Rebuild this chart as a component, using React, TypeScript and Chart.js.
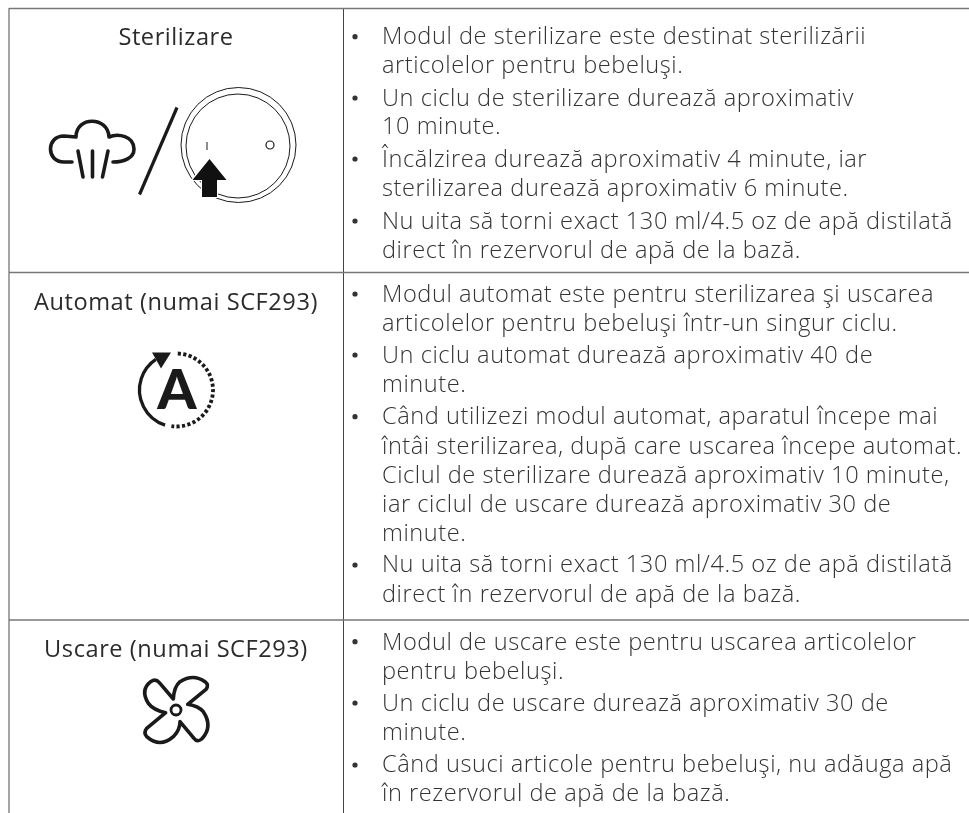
import React, { useEffect, useRef } from "react";
import { Chart, registerables } from "chart.js";

Chart.register(...registerables);

// ---- table text ----
const headers = ["Sterilizare", "Automat (numai SCF293)", "Uscare (numai SCF293)"];
const headerBaselines = [45, 310, 657];

const bodyLines = [
  "Modul de sterilizare este destinat sterilizării",
  "articolelor pentru bebeluşi.",
  "Un ciclu de sterilizare durează aproximativ",
  "10 minute.",
  "Încălzirea durează aproximativ 4 minute, iar",
  "sterilizarea durează aproximativ 6 minute.",
  "Nu uita să torni exact 130 ml/4.5 oz de apă distilată",
  "direct în rezervorul de apă de la bază.",
  "Modul automat este pentru sterilizarea şi uscarea",
  "articolelor pentru bebeluşi într-un singur ciclu.",
  "Un ciclu automat durează aproximativ 40 de",
  "minute.",
  "Când utilizezi modul automat, aparatul începe mai",
  "întâi sterilizarea, după care uscarea începe automat.",
  "Ciclul de sterilizare durează aproximativ 10 minute,",
  "iar ciclul de uscare durează aproximativ 30 de",
  "minute.",
  "Nu uita să torni exact 130 ml/4.5 oz de apă distilată",
  "direct în rezervorul de apă de la bază.",
  "Modul de uscare este pentru uscarea articolelor",
  "pentru bebeluşi.",
  "Un ciclu de uscare durează aproximativ 30 de",
  "minute.",
  "Când usuci articole pentru bebeluşi, nu adăuga apă",
  "în rezervorul de apă de la bază.",
];
const bodyBaselines = [
  44, 73, 106, 134, 167, 196, 229, 258,
  302, 331, 363, 392, 424, 454, 483, 512, 541, 572, 602,
  650, 679, 711, 740, 772, 801,
];
const bulletRows = [36.7, 98, 159, 221, 294, 355, 416.7, 565, 641.7, 703, 765];

// ---- table rules ----
const ruleRows = [8.5, 272.5, 620];
const ruleColumns = [9, 343.5];

function App() {
  const ref = useRef<HTMLCanvasElement | null>(null);
  useEffect(() => {
    const canvas = ref.current;
    if (!canvas) return;
    const bodyFont = "300 23.6px 'Open Sans'";
    const headFont = "400 23.6px 'Open Sans'";

    const tablePlugin = {
      id: "tableText",
      beforeDraw(c: any) {
        const ctx = c.ctx;
        ctx.save();
        ctx.fillStyle = "#fff";
        ctx.fillRect(0, 0, c.width, c.height);
        ctx.restore();
      },
      afterDatasetsDraw(c: any) {
        const ctx = c.ctx;
        const X = (v: number) => c.scales.x.getPixelForValue(v);
        const Y = (v: number) => c.scales.y.getPixelForValue(v);
        ctx.save();
        ctx.textBaseline = "alphabetic";
        ctx.letterSpacing = "0.55px";
        ctx.fillStyle = "#2b2b2b";
        ctx.font = headFont;
        ctx.textAlign = "center";
        headers.forEach((t, i) => ctx.fillText(t, X(176), Y(headerBaselines[i])));
        ctx.textAlign = "left";
        ctx.font = bodyFont;
        ctx.fillStyle = "#333";
        bodyLines.forEach((t, i) => ctx.fillText(t, X(382), Y(bodyBaselines[i])));
        ctx.letterSpacing = "0px";

        // Icons
        ctx.strokeStyle = "#1a1a1a";
        ctx.fillStyle = "#1a1a1a";
        ctx.lineCap = "round";
        ctx.lineJoin = "round";
        // steam cloud
        ctx.lineWidth = 3.6;
        ctx.beginPath();
        ctx.moveTo(X(72), Y(162));
        ctx.lineTo(X(64), Y(162));
        ctx.bezierCurveTo(X(46), Y(162), X(46), Y(136), X(64), Y(136));
        ctx.lineTo(X(76), Y(137));
        ctx.bezierCurveTo(X(76), Y(116), X(108), Y(116), X(109), Y(137));
        ctx.bezierCurveTo(X(118), Y(133), X(134), Y(136), X(134), Y(149));
        ctx.bezierCurveTo(X(134), Y(158), X(124), Y(162), X(113), Y(162));
        ctx.stroke();
        ctx.beginPath();
        ctx.moveTo(X(78), Y(151)); ctx.lineTo(X(83), Y(177));
        ctx.moveTo(X(92.5), Y(151)); ctx.lineTo(X(92.5), Y(177));
        ctx.moveTo(X(108), Y(151)); ctx.lineTo(X(102.5), Y(177));
        ctx.stroke();
        // slash
        ctx.lineCap = "butt";
        ctx.lineWidth = 3.2;
        ctx.beginPath();
        ctx.moveTo(X(177), Y(107.5)); ctx.lineTo(X(139.5), Y(194.5));
        ctx.stroke();
        // dial
        ctx.lineWidth = 1;
        ctx.beginPath();
        ctx.arc(X(238.5), Y(145), 57.5, 0, Math.PI * 2);
        ctx.stroke();
        ctx.beginPath();
        ctx.arc(X(238), Y(146), 52, 0, Math.PI * 2);
        ctx.stroke();
        ctx.beginPath();
        ctx.moveTo(X(207), Y(142)); ctx.lineTo(X(207), Y(150));
        ctx.stroke();
        ctx.lineWidth = 1.2;
        ctx.beginPath();
        ctx.arc(X(270), Y(145), 4, 0, Math.PI * 2);
        ctx.stroke();
        // dial arrow
        const arrow = () => {
          ctx.beginPath();
          ctx.moveTo(X(209.5), Y(159));
          ctx.lineTo(X(226.5), Y(180));
          ctx.lineTo(X(217), Y(180));
          ctx.lineTo(X(217), Y(197));
          ctx.lineTo(X(202), Y(197));
          ctx.lineTo(X(202), Y(180));
          ctx.lineTo(X(192.5), Y(180));
          ctx.closePath();
        };
        ctx.strokeStyle = "#fff";
        ctx.lineWidth = 2;
        arrow();
        ctx.stroke();
        ctx.fillStyle = "#111";
        arrow();
        ctx.fill();

        // automatic icon
        ctx.strokeStyle = "#1a1a1a";
        ctx.fillStyle = "#1a1a1a";
        ctx.lineWidth = 3.3;
        ctx.beginPath();
        ctx.arc(X(176.5), Y(390), 37, (108 * Math.PI) / 180, (236 * Math.PI) / 180);
        ctx.stroke();
        ctx.beginPath();
        ctx.moveTo(X(152), Y(352.5));
        ctx.lineTo(X(171), Y(352.5));
        ctx.lineTo(X(161), Y(368.5));
        ctx.closePath();
        ctx.fill();
        ctx.lineWidth = 3.8;
        ctx.setLineDash([3.2, 2.3]);
        ctx.beginPath();
        ctx.arc(X(176.5), Y(390), 36.5, (-88 * Math.PI) / 180, (98 * Math.PI) / 180);
        ctx.stroke();
        ctx.setLineDash([]);
        ctx.font = "900 56px Lato";
        ctx.textAlign = "center";
        ctx.fillText("A", X(177), Y(409));

        // fan icon
        const f = (p: number) => p / 3;
        const fx = (p: number) => X(f(p));
        const fy = (p: number) => Y(540 + f(p));
        ctx.lineWidth = 3.6;
        ctx.lineCap = "round";
        ctx.beginPath();
        ctx.moveTo(fx(520), fy(477));
        ctx.lineTo(fx(478), fy(428));
        ctx.quadraticCurveTo(fx(467), fy(415), fx(452), fy(425));
        ctx.quadraticCurveTo(fx(420), fy(450), fx(445), fy(490));
        ctx.quadraticCurveTo(fx(460), fy(510), fx(497), fy(518));
        ctx.lineTo(fx(440), fy(565));
        ctx.quadraticCurveTo(fx(430), fy(578), fx(440), fy(590));
        ctx.quadraticCurveTo(fx(480), fy(625), fx(520), fy(590));
        ctx.quadraticCurveTo(fx(540), fy(570), fx(540), fy(545));
        ctx.lineTo(fx(582), fy(595));
        ctx.quadraticCurveTo(fx(592), fy(608), fx(605), fy(597));
        ctx.quadraticCurveTo(fx(640), fy(560), fx(610), fy(515));
        ctx.quadraticCurveTo(fx(595), fy(498), fx(563), fy(493));
        ctx.lineTo(fx(618), fy(448));
        ctx.quadraticCurveTo(fx(628), fy(435), fx(615), fy(425));
        ctx.quadraticCurveTo(fx(580), fy(400), fx(540), fy(425));
        ctx.quadraticCurveTo(fx(522), fy(440), fx(520), fy(477));
        ctx.closePath();
        ctx.stroke();
        ctx.lineWidth = 2.8;
        ctx.beginPath();
        ctx.arc(X(176), Y(710), 5, 0, Math.PI * 2);
        ctx.stroke();
        ctx.restore();
      },
    };

    const horizontal = ruleRows.map((y) => ({
      type: "line" as const,
      data: [{ x: ruleColumns[0], y }, { x: 969, y }],
      borderColor: "#777",
      borderWidth: 1.5,
      pointRadius: 0,
      parsing: false,
    }));
    const vertical = ruleColumns.map((x, i) => ({
      type: "line" as const,
      data: [{ x, y: 8 }, { x, y: 813 }],
      borderColor: i === 0 ? "#888" : "#444",
      borderWidth: i === 0 ? 1.5 : 1,
      pointRadius: 0,
      parsing: false,
    }));
    const bullets = {
      type: "scatter" as const,
      data: bulletRows.map((y) => ({ x: 355, y })),
      pointRadius: 2.6,
      pointBackgroundColor: "#333",
      pointBorderWidth: 0,
      showLine: false,
      parsing: false,
    };

    const chart = new Chart(canvas, {
      type: "scatter",
      data: { datasets: [...horizontal, ...vertical, bullets] as any },
      options: {
        animation: false,
        responsive: false,
        maintainAspectRatio: false,
        layout: { padding: 0, autoPadding: false },
        plugins: { legend: { display: false }, tooltip: { enabled: false }, title: { display: false } },
        scales: {
          x: { type: "linear", min: 0, max: 969, display: false },
          y: { type: "linear", min: 0, max: 813, reverse: true, display: false },
        },
      },
      plugins: [tablePlugin],
    });
    return () => chart.destroy();
  }, []);
  return (
    <div style={{ position: "absolute", left: 0, top: 0, width: 969, height: 813, overflow: "hidden", background: "#fff" }}>
      <canvas ref={ref} width={969} height={813} style={{ display: "block", width: 969, height: 813 }} />
    </div>
  );
}

export default App;
